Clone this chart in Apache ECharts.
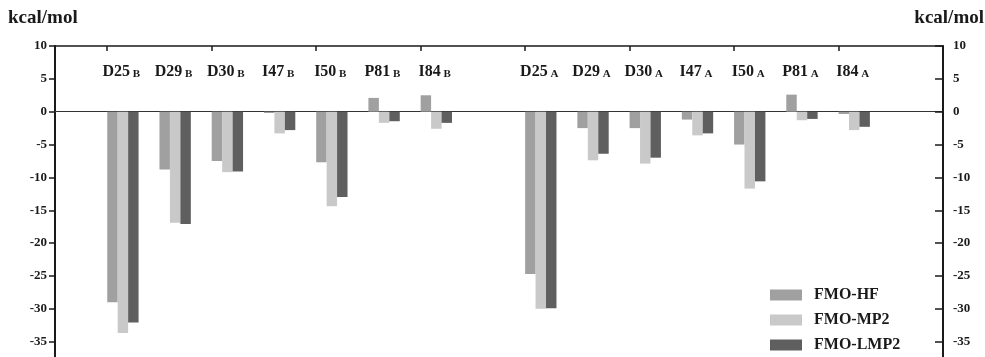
<!DOCTYPE html>
<html>
<head>
<meta charset="utf-8">
<script src="https://cdn.jsdelivr.net/npm/echarts@6/dist/echarts.min.js"></script>
<style>
html,body{margin:0;padding:0;background:#fff;}
#chart{width:985px;height:357px;}
</style>
</head>
<body>
<div id="chart"></div>
<script>
const categories = ['', 'D25 B', 'D29 B', 'D30 B', 'I47 B', 'I50 B', 'P81 B', 'I84 B', '',
                    'D25 A', 'D29 A', 'D30 A', 'I47 A', 'I50 A', 'P81 A', 'I84 A', ''];
const fmoHF   = [null, -29.0, -8.8, -7.5, -0.2, -7.7, 2.1, 2.5, null, -24.7, -2.5, -2.5, -1.2, -5.0, 2.6, -0.35, null];
const fmoMP2  = [null, -33.7, -16.9, -9.2, -3.3, -14.4, -1.7, -2.6, null, -30.0, -7.4, -7.9, -3.6, -11.7, -1.3, -2.8, null];
const fmoLMP2 = [null, -32.1, -17.1, -9.1, -2.8, -13.0, -1.45, -1.7, null, -29.9, -6.4, -7.0, -3.3, -10.6, -1.1, -2.3, null];
const seriesNames = ['FMO-HF', 'FMO-MP2', 'FMO-LMP2'];
const yTicks = {min: -40, max: 10, interval: 5};
const unitLabel = 'kcal/mol';

const FONT = 'Liberation Serif';
const INK = '#1a1a1a';
const colors = ['#a0a0a0', '#c9c9c9', '#5f5f5f'];
const BW = 888 / 17;
const barW = 10.45;

const chart = echarts.init(document.getElementById('chart'), null, {renderer: 'canvas'});

const yAxisCommon = {
  type: 'value', min: yTicks.min, max: yTicks.max, interval: yTicks.interval,
  splitLine: {show: false},
  axisLine: {show: true, lineStyle: {color: INK, width: 2}},
  axisLabel: {color: INK, fontFamily: FONT, fontWeight: 'bold', fontSize: 13}
};

const option = {
  animation: false,
  backgroundColor: '#fff',
  title: [
    {text: unitLabel, left: 8, top: 9, padding: 0,
     textStyle: {fontFamily: FONT, fontWeight: 'bold', fontSize: 19, color: INK}},
    {text: unitLabel, right: 1, top: 9, padding: 0,
     textStyle: {fontFamily: FONT, fontWeight: 'bold', fontSize: 19, color: INK}}
  ],
  grid: {left: 55, width: 888, top: 46, height: 328.5, containLabel: false, outerBoundsMode: 'none'},
  legend: {
    orient: 'vertical', left: 770, top: 287, padding: 0,
    itemWidth: 32, itemHeight: 11, itemGap: 9, icon: 'rect',
    data: seriesNames,
    textStyle: {fontFamily: FONT, fontWeight: 'bold', fontSize: 16, color: INK, lineHeight: 16, padding: [0, 0, 0, 7]}
  },
  xAxis: [
    {
      type: 'category', data: categories, position: 'bottom', boundaryGap: true,
      axisLine: {show: true, onZero: true, lineStyle: {color: '#333', width: 1}},
      axisTick: {show: false}, axisLabel: {show: false}, splitLine: {show: false}
    },
    {
      type: 'category', data: categories, position: 'top', boundaryGap: true,
      axisLine: {show: true, onZero: false, lineStyle: {color: INK, width: 1.5}},
      axisTick: {show: true, inside: true, length: 5, lineStyle: {color: INK, width: 1.5},
                 interval: function (i) { return i % 2 === 1; }},
      axisLabel: {
        show: true, inside: true, interval: 0, margin: 18, align: 'center',
        padding: [0, 24, 0, 0],
        formatter: function (v) {
          if (!v) return '';
          const p = v.split(' ');
          return '{n|' + p[0] + '}{s| ' + p[1] + '}';
        },
        rich: {
          n: {fontFamily: FONT, fontWeight: 'bold', fontSize: 16, color: INK, verticalAlign: 'bottom', lineHeight: 16},
          s: {fontFamily: FONT, fontWeight: 'bold', fontSize: 11, color: INK, verticalAlign: 'bottom', lineHeight: 16}
        }
      },
      splitLine: {show: false}
    }
  ],
  yAxis: [
    Object.assign({}, yAxisCommon, {
      position: 'left',
      axisTick: {show: true, inside: false, length: 6, lineStyle: {color: INK, width: 1.5}},
      axisLabel: Object.assign({}, yAxisCommon.axisLabel, {margin: 8})
    }),
    Object.assign({}, yAxisCommon, {
      position: 'right',
      axisTick: {show: true, inside: true, length: 8, lineStyle: {color: INK, width: 1.5}},
      axisLabel: Object.assign({}, yAxisCommon.axisLabel, {margin: 10})
    })
  ],
  series: [
    {name: seriesNames[0], type: 'bar', data: fmoHF, barWidth: barW, barGap: '0%', itemStyle: {color: colors[0]}},
    {name: seriesNames[1], type: 'bar', data: fmoMP2, barWidth: barW, barGap: '0%', itemStyle: {color: colors[1]}},
    {name: seriesNames[2], type: 'bar', data: fmoLMP2, barWidth: barW, barGap: '0%', itemStyle: {color: colors[2]}},
    {name: 'spacer', type: 'bar', data: categories.map(function () { return null; }),
     barWidth: BW - 3 * barW, barGap: '0%', silent: true, itemStyle: {color: 'rgba(0,0,0,0)'}}
  ]
};
chart.setOption(option);
</script>
</body>
</html>
